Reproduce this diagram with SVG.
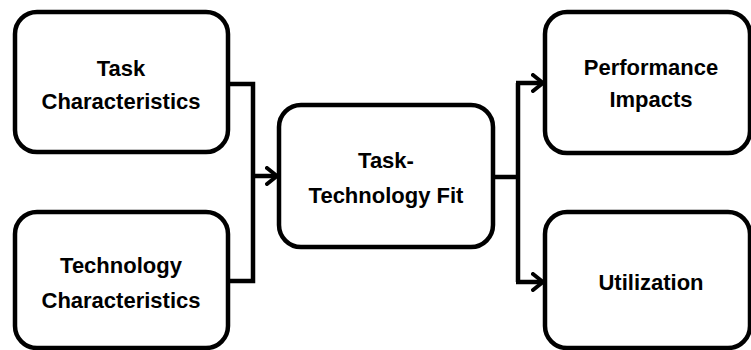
<svg xmlns="http://www.w3.org/2000/svg" width="751" height="350" viewBox="0 0 751 350">
<defs>
<style>
.box{fill:#fff;stroke:#000;stroke-width:4.5}
.t{font-family:"Liberation Sans",Arial,sans-serif;font-weight:bold;font-size:22px;fill:#000;text-anchor:middle}
.c{fill:none;stroke:#000;stroke-width:4.5;stroke-linejoin:miter}
</style>
<marker id="arr" viewBox="0 0 14 20" refX="12" refY="10" markerWidth="14" markerHeight="20" markerUnits="userSpaceOnUse" orient="auto">
<path d="M2,2 L12,10 L2,18" fill="none" stroke="#000" stroke-width="4" stroke-linecap="round" stroke-linejoin="round"/>
</marker>
</defs>
<rect width="751" height="350" fill="#fff"/>
<g id="connectors">
<path class="c" d="M227,84 H253 V281 H227"/>
<path class="c" d="M253,176 H277" marker-end="url(#arr)"/>
<path class="c" d="M493,177 H518"/>
<path class="c" d="M518,83 V282"/>
<path class="c" d="M516,83 H543" marker-end="url(#arr)"/>
<path class="c" d="M516,282 H543" marker-end="url(#arr)"/>
</g>
<g id="task">
<rect class="box" x="15" y="12" width="213" height="140" rx="22"/>
<text class="t" x="121" y="76">Task</text>
<text class="t" x="121" y="109">Characteristics</text>
</g>
<g id="technology">
<rect class="box" x="15" y="212" width="213" height="136" rx="22"/>
<text class="t" x="121" y="273">Technology</text>
<text class="t" x="121" y="308">Characteristics</text>
</g>
<g id="ttf">
<rect class="box" x="279" y="105" width="214" height="142" rx="22"/>
<text class="t" x="386" y="168">Task-</text>
<text class="t" x="386" y="203">Technology Fit</text>
</g>
<g id="performance">
<rect class="box" x="545" y="12" width="205" height="141" rx="22"/>
<text class="t" x="651" y="75">Performance</text>
<text class="t" x="651" y="107">Impacts</text>
</g>
<g id="utilization">
<rect class="box" x="545" y="212" width="205" height="136" rx="22"/>
<text class="t" x="651" y="290">Utilization</text>
</g>
</svg>
